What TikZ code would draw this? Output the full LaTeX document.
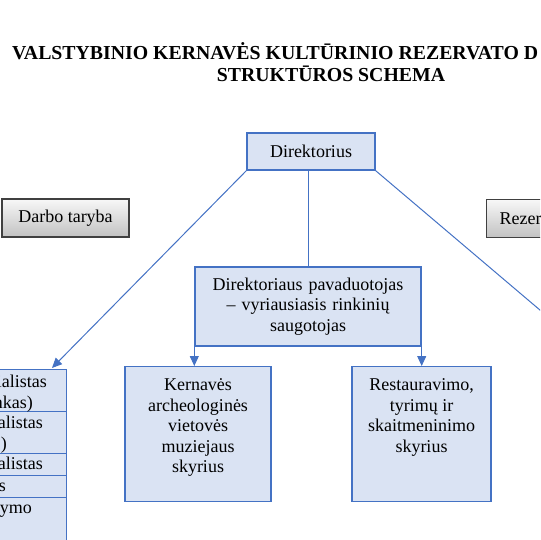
\documentclass[tikz,border=0pt]{standalone}
\usepackage{fontspec}
\setmainfont{Liberation Serif}
\usetikzlibrary{arrows.meta, calc}

\definecolor{lineblue}{RGB}{68,114,196}
\definecolor{boxblue}{RGB}{218,227,243}

\begin{document}
\begin{tikzpicture}[x=1pt, y=-1pt,
    bluebox/.style={
        draw=lineblue, fill=boxblue, line width=1.4pt, inner sep=0pt
    },
    graybox/.style={
        draw=black!75, top color=gray!6, bottom color=gray!48,
        line width=1.1pt, inner sep=0pt, font=\fontsize{18}{20.5}\selectfont
    },
    txt/.style={inner sep=0pt, align=center, font=\fontsize{18}{20.5}\selectfont},
    frag/.style={inner sep=0pt, anchor=base east, font=\fontsize{18}{20.5}\selectfont},
    ttl/.style={inner sep=0pt, font=\fontsize{19.8}{22}\selectfont\bfseries},
    link/.style={draw=lineblue, line width=1pt},
    arr/.style={link, -{Triangle[length=10pt, width=9pt]}},
]

% Frame (the scheme is cut at both sides)
\useasboundingbox (0,0) rectangle (540,540);
\clip (0,0) rectangle (540,540);

% ====== TITLE ======
\node[ttl, anchor=base west] (ttl1) at (12,60) {VALSTYBINIO KERNAVĖS KULTŪRINIO REZERVATO D};
\node[ttl, anchor=base] (ttl2) at (331,82) {STRUKTŪROS SCHEMA};

% ====== TOP ROW ======
\node[bluebox, txt, minimum width=128pt, minimum height=37pt] (dir) at (311,151.5) {Direktorius};
\node[graybox, minimum width=127pt, minimum height=38pt] (darbo) at (65.5,218) {Darbo taryba};
\node[graybox, anchor=north west, minimum height=38pt, text width=100pt,
      inner xsep=13pt, align=left] (rezer) at (486,199) {Rezer};

% ====== DEPUTY ======
\node[bluebox, txt, minimum width=226pt, minimum height=79pt, text width=215pt] (pavad) at (308,306.5)
    {Direktoriaus pavaduotojas\\ -- vyriausiasis rinkinių\\ saugotojas};

% ====== DEPARTMENTS ======
\node[bluebox, anchor=north, minimum width=146pt, minimum height=135pt] (kern) at (198,366) {};
\node[txt, anchor=north] (kernt) at ($(kern.north)+(0,12.5)$)
    {Kernavės\\ archeologinės\\ vietovės\\ muziejaus\\ skyrius};

\node[bluebox, anchor=north, minimum width=139pt, minimum height=135pt] (rest) at (421.5,366) {};
\node[txt, anchor=north] (restt) at ($(rest.north)+(0,12.5)$)
    {Restauravimo,\\ tyrimų ir\\ skaitmeninimo\\ skyrius};

% ====== LEFT STACK (cut) ======
\node[bluebox, anchor=north east, minimum width=100pt, minimum height=42pt] (st1) at (67,369) {};
\node[bluebox, anchor=north east, minimum width=100pt, minimum height=42pt] (st2) at (67,411) {};
\node[bluebox, anchor=north east, minimum width=100pt, minimum height=22pt] (st3) at (67,453) {};
\node[bluebox, anchor=north east, minimum width=100pt, minimum height=22pt] (st4) at (67,475) {};
\node[bluebox, anchor=north east, minimum width=100pt, minimum height=50pt] (st5) at (67,497) {};

\node[frag] (st1a) at (47,387) {ialistas};
\node[frag] (st1b) at (33,408) {nkas)};
\node[frag] (st2a) at (43,428) {ialistas};
\node[frag] (st2b) at (7,449) {)};
\node[frag] (st3a) at (43,469) {ialistas};
\node[frag] (st4a) at (6,491) {s};
\node[frag] (st5a) at (32,513) {ymo};

% ====== CONNECTORS ======
\coordinate (stk) at (52,368);
\coordinate (rzr) at (580,344);

\draw[link] (pavad.north) -- (pavad.north |- dir.south);
\draw[arr] (dir.south west) -- (stk);
\draw[link] (dir.south east) -- (rzr);
\draw[arr] (pavad.south west) -- (pavad.south west |- kern.north);
\draw[arr] (pavad.south east) -- (pavad.south east |- rest.north);

\end{tikzpicture}
\end{document}
